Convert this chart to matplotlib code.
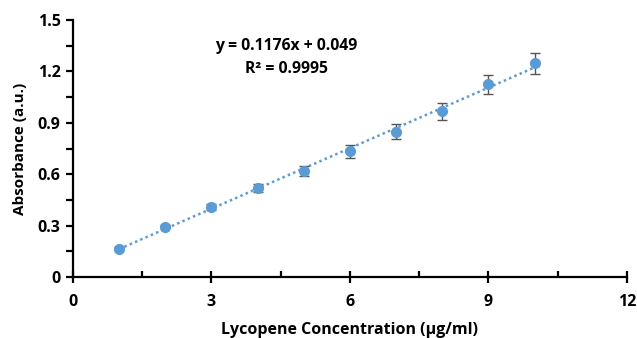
import matplotlib
matplotlib.use("Agg")
import matplotlib.pyplot as plt
import numpy as np
from matplotlib.ticker import MultipleLocator, FuncFormatter

conc = [1, 2, 3, 4, 5, 6, 7, 8, 9, 10]
absorb = [0.167, 0.294, 0.411, 0.522, 0.619, 0.733, 0.849, 0.968, 1.124, 1.248]
err = [0.008, 0.010, 0.018, 0.023, 0.030, 0.038, 0.044, 0.050, 0.056, 0.062]
eq_text = "y = 0.1176x + 0.049"
r2_text = "R² = 0.9995"
xlabel = "Lycopene Concentration (µg/ml)"
ylabel = "Absorbance (a.u.)"

plt.rcParams['font.family'] = ['Open Sans', 'DejaVu Sans']
fig = plt.figure(figsize=(6.37, 3.38), dpi=100)
ax = fig.add_axes([0.1146, 0.180, 0.8697, 0.761])

blue = '#5B9BD5'
slope, intercept = np.polyfit(conc, absorb, 1)
xs = np.array([min(conc), max(conc)])
ax.plot(xs, slope * xs + intercept, linestyle=(0, (1, 1.3)), color=blue, lw=1.8, zorder=2)
ax.errorbar(conc, absorb, yerr=err, fmt='o', color=blue, ms=7, ecolor='#555555',
            elinewidth=1.0, capsize=3.5, capthick=1.0, zorder=3)

ax.set_xlim(0, 12)
ax.set_ylim(0, 1.5)
ax.xaxis.set_major_locator(MultipleLocator(3))
ax.xaxis.set_minor_locator(MultipleLocator(1.5))
ax.yaxis.set_major_locator(MultipleLocator(0.3))
ax.yaxis.set_minor_locator(MultipleLocator(0.15))

def fmt(v, p):
    return "0" if abs(v) < 1e-9 else f"{v:.1f}"
ax.xaxis.set_major_formatter(FuncFormatter(lambda v, p: f"{int(round(v))}"))
ax.yaxis.set_major_formatter(FuncFormatter(fmt))

for s in ['top', 'right']:
    ax.spines[s].set_visible(False)
for s in ['left', 'bottom']:
    ax.spines[s].set_linewidth(1.6)
    ax.spines[s].set_color('black')

ax.tick_params(axis='x', which='major', direction='inout', length=8, width=1.6, pad=8,
               labelsize=11.5)
ax.tick_params(axis='x', which='minor', direction='in', length=4, width=1.6)
ax.tick_params(axis='y', which='major', direction='out', length=5, width=1.6, pad=4,
               labelsize=11.5)
ax.tick_params(axis='y', which='minor', direction='out', length=5, width=1.6)
for lab in ax.get_xticklabels() + ax.get_yticklabels():
    lab.set_fontweight('bold')

ax.set_xlabel(xlabel, fontsize=11.5, fontweight='bold', labelpad=9)
ax.set_ylabel(ylabel, fontsize=11, fontweight='bold', labelpad=8)

ax.text(4.62, 1.35, eq_text, ha='center', va='center', fontsize=11.3, fontweight='bold')
ax.text(4.62, 1.215, r2_text, ha='center', va='center', fontsize=11.3, fontweight='bold')

fig.savefig("out.png", dpi=100)
